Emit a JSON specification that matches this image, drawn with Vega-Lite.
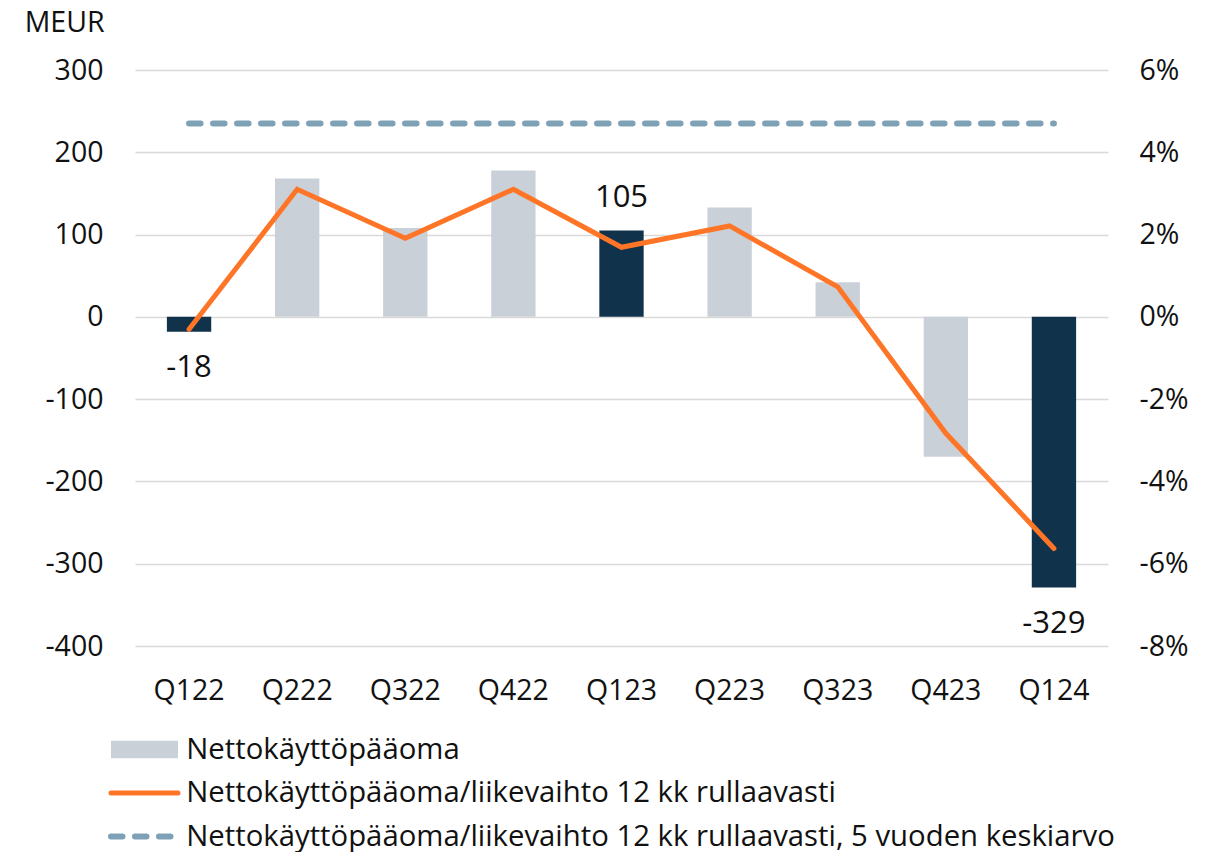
{
  "$schema": "https://vega.github.io/schema/vega-lite/v6.json",
  "width": 973,
  "height": 576,
  "autosize": {"type": "none"},
  "padding": {"left": 135, "top": 70, "right": 107, "bottom": 206},
  "background": "white",
  "config": {
    "font": "Open Sans",
    "view": {"stroke": null},
    "locale": {"number": {"decimal": ".", "thousands": ",", "grouping": [3], "currency": ["", ""], "minus": "-"}},
    "axis": {"labelFont": "Open Sans", "labelFontSize": 28.5, "labelColor": "#111111", "domain": false, "ticks": false, "titleFont": "Open Sans"}
  },
  "data": {
    "values": [
      {"q": "Q122", "value": -18, "ratio": -0.30, "avg": 4.70},
      {"q": "Q222", "value": 168, "ratio": 3.10, "avg": 4.70},
      {"q": "Q322", "value": 108, "ratio": 1.91, "avg": 4.70},
      {"q": "Q422", "value": 178, "ratio": 3.10, "avg": 4.70},
      {"q": "Q123", "value": 105, "ratio": 1.69, "avg": 4.70},
      {"q": "Q223", "value": 133, "ratio": 2.21, "avg": 4.70},
      {"q": "Q323", "value": 42, "ratio": 0.73, "avg": 4.70},
      {"q": "Q423", "value": -170, "ratio": -2.83, "avg": 4.70},
      {"q": "Q124", "value": -329, "ratio": -5.63, "avg": 4.70}
    ]
  },
  "encoding": {
    "x": {
      "field": "q", "type": "nominal", "sort": null,
      "scale": {"paddingInner": 0.59, "paddingOuter": 0.295},
      "axis": {"title": null, "labelAngle": 0, "labelPadding": 30, "labelFontSize": 28.5, "grid": false}
    }
  },
  "layer": [
    {
      "encoding": {
        "y": {
          "field": "value", "type": "quantitative",
          "scale": {"domain": [-400, 300], "nice": false, "zero": false},
          "axis": {
            "orient": "left",
            "values": [-400, -300, -200, -100, 0, 100, 200, 300],
            "grid": true, "gridColor": "#D9D9D9", "gridWidth": 1.5,
            "labelPadding": 32,
            "title": "MEUR", "titleAngle": 0, "titleAlign": "right", "titleBaseline": "alphabetic",
            "titleX": -31, "titleY": -39, "titleFontSize": 28.5, "titleFontWeight": "normal", "titleColor": "#111111"
          }
        }
      },
      "layer": [
        {
          "mark": {"type": "bar"},
          "encoding": {
            "color": {
              "condition": {"test": "indexof(datum.q, 'Q1') === 0", "value": "#11324B"},
              "datum": "Nettokäyttöpääoma",
              "type": "nominal",
              "scale": {
                "domain": ["Nettokäyttöpääoma", "Nettokäyttöpääoma/liikevaihto 12 kk rullaavasti", "Nettokäyttöpääoma/liikevaihto 12 kk rullaavasti, 5 vuoden keskiarvo"],
                "range": ["#C9D0D7", "#FF7527", "#7FA1B6"]
              },
              "legend": {
                "title": null,
                "orient": "none",
                "legendX": -27,
                "legendY": 662.5,
                "direction": "vertical",
                "columns": 1,
                "padding": 0,
                "labelFont": "Open Sans",
                "labelFontSize": 29.3,
                "labelColor": "#111111",
                "labelOffset": 49,
                "labelLimit": 0,
                "symbolSize": 4489,
                "clipHeight": 34,
                "rowPadding": 9.5,
                "encode": {
                  "symbols": {
                    "update": {
                      "x": {"value": 36.5},
                      "shape": {"signal": "datum.value === 'Nettokäyttöpääoma' ? 'M-1,-0.26H1V0.26H-1Z' : 'stroke'"},
                      "fill": {"signal": "datum.value === 'Nettokäyttöpääoma' ? '#C9D0D7' : 'transparent'"},
                      "stroke": {"signal": "datum.value === 'Nettokäyttöpääoma' ? 'transparent' : (datum.value === 'Nettokäyttöpääoma/liikevaihto 12 kk rullaavasti' ? '#FF7527' : '#7FA1B6')"},
                      "strokeWidth": {"signal": "datum.value === 'Nettokäyttöpääoma' ? 0 : (datum.value === 'Nettokäyttöpääoma/liikevaihto 12 kk rullaavasti' ? 5 : 6)"},
                      "strokeDash": {"signal": "datum.value === 'Nettokäyttöpääoma/liikevaihto 12 kk rullaavasti, 5 vuoden keskiarvo' ? [11.5, 12.5] : [1, 0]"},
                      "strokeCap": {"value": "round"},
                      "opacity": {"value": 1}
                    }
                  }
                }
              }
            }
          }
        },
        {
          "transform": [{"filter": "indexof(datum.q, 'Q1') === 0 && datum.value >= 0"}],
          "mark": {"type": "text", "fontSize": 31, "dy": -32, "baseline": "middle", "color": "#111111"},
          "encoding": {"text": {"field": "value", "type": "quantitative", "format": "d"}}
        },
        {
          "transform": [{"filter": "indexof(datum.q, 'Q1') === 0 && datum.value < 0"}],
          "mark": {"type": "text", "fontSize": 31, "dy": 36, "baseline": "middle", "color": "#111111"},
          "encoding": {"text": {"field": "value", "type": "quantitative", "format": "d"}}
        }
      ]
    },
    {
      "layer": [
        {
          "mark": {"type": "line", "strokeWidth": 5, "strokeCap": "round"},
          "encoding": {
            "y": {
              "field": "ratio", "type": "quantitative",
              "scale": {"domain": [-8, 6], "nice": false, "zero": false},
              "axis": {
                "orient": "right",
                "values": [-8, -6, -4, -2, 0, 2, 4, 6],
                "grid": false,
                "labelPadding": 31,
                "labelExpr": "datum.label + '%'",
                "title": null
              }
            },
            "color": {"datum": "Nettokäyttöpääoma/liikevaihto 12 kk rullaavasti", "type": "nominal"}
          }
        },
        {
          "mark": {"type": "line", "strokeWidth": 6, "strokeCap": "round", "strokeDash": [11.5, 12.5]},
          "encoding": {
            "y": {"field": "avg", "type": "quantitative"},
            "color": {"datum": "Nettokäyttöpääoma/liikevaihto 12 kk rullaavasti, 5 vuoden keskiarvo", "type": "nominal"}
          }
        }
      ]
    }
  ],
  "resolve": {"scale": {"y": "independent"}}
}
